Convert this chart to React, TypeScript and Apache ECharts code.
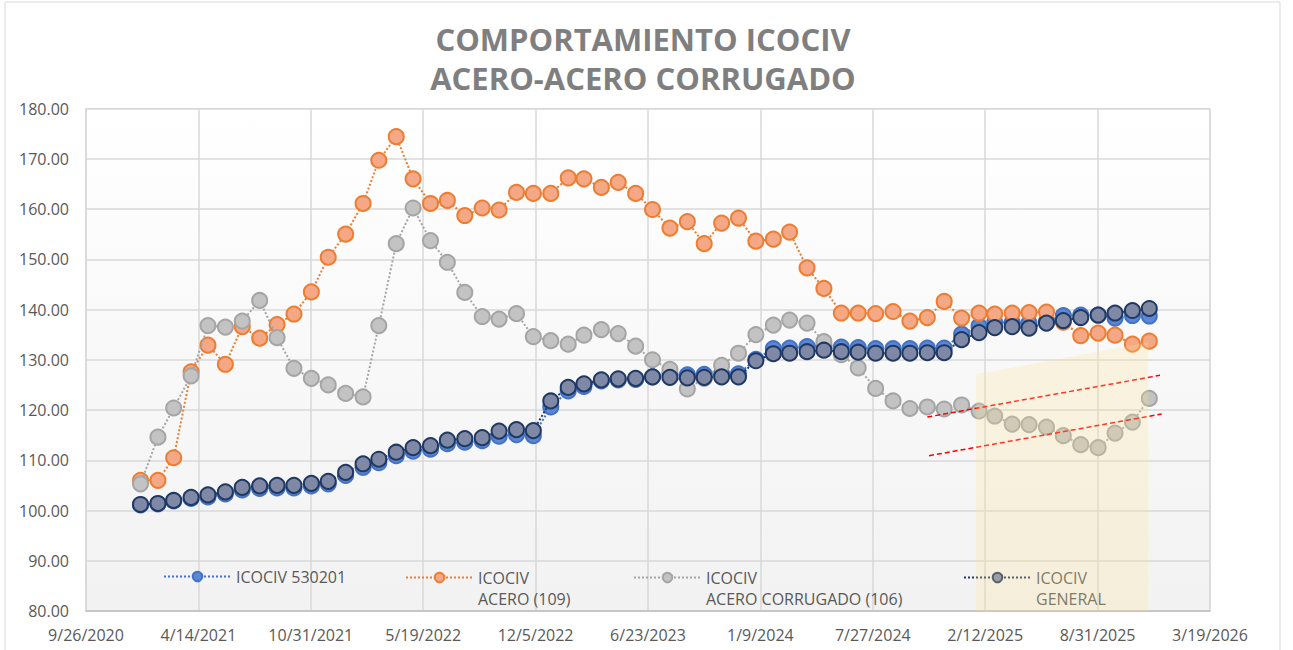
import React, { useEffect, useRef } from "react";
import * as echarts from "echarts";

const months = [
  "2021-01-01","2021-02-01","2021-03-01","2021-04-01","2021-05-01","2021-06-01",
  "2021-07-01","2021-08-01","2021-09-01","2021-10-01","2021-11-01","2021-12-01",
  "2022-01-01","2022-02-01","2022-03-01","2022-04-01","2022-05-01","2022-06-01",
  "2022-07-01","2022-08-01","2022-09-01","2022-10-01","2022-11-01","2022-12-01",
  "2023-01-01","2023-02-01","2023-03-01","2023-04-01","2023-05-01","2023-06-01",
  "2023-07-01","2023-08-01","2023-09-01","2023-10-01","2023-11-01","2023-12-01",
  "2024-01-01","2024-02-01","2024-03-01","2024-04-01","2024-05-01","2024-06-01",
  "2024-07-01","2024-08-01","2024-09-01","2024-10-01","2024-11-01","2024-12-01",
  "2025-01-01","2025-02-01","2025-03-01","2025-04-01","2025-05-01","2025-06-01",
  "2025-07-01","2025-08-01","2025-09-01","2025-10-01","2025-11-01","2025-12-01",
];

const icociv530201 = [
  101.1, 101.3, 101.9, 102.4, 102.7, 103.3, 104.1, 104.4, 104.5, 104.5, 104.9, 105.3,
  107.0, 108.6, 109.5, 110.9, 111.8, 112.2, 113.3, 113.6, 113.9, 114.8, 115.1, 114.9,
  120.6, 123.8, 124.7, 125.8, 126.0, 126.1, 126.6, 127.1, 127.0, 127.1, 127.2, 127.2,
  130.1, 132.2, 132.3, 132.6, 132.8, 132.5, 132.4, 132.2, 132.2, 132.2, 132.3, 132.3,
  135.1, 136.7, 137.4, 137.4, 137.3, 137.6, 138.8, 138.9, 138.9, 138.3, 138.8, 138.7,
];

const icocivAcero = [
  106.0, 106.0, 110.5, 127.6, 132.9, 129.1, 136.6, 134.3, 137.0, 139.1, 143.5, 150.4,
  155.0, 161.1, 169.7, 174.4, 166.0, 161.1, 161.7, 158.7, 160.2, 159.8, 163.3, 163.1,
  163.1, 166.2, 166.0, 164.3, 165.3, 163.1, 159.9, 156.2, 157.5, 153.1, 157.2, 158.2,
  153.6, 154.0, 155.4, 148.3, 144.2, 139.3, 139.3, 139.2, 139.6, 137.7, 138.4, 141.6,
  138.3, 139.3, 139.1, 139.3, 139.4, 139.5, 137.5, 134.8, 135.3, 134.9, 133.1, 133.7,
];

const icocivCorrugado = [
  105.3, 114.6, 120.4, 126.8, 136.8, 136.5, 137.7, 141.8, 134.4, 128.3, 126.3, 125.0,
  123.3, 122.6, 136.8, 153.1, 160.2, 153.7, 149.4, 143.4, 138.6, 138.1, 139.2, 134.6,
  133.8, 133.1, 134.9, 136.0, 135.2, 132.7, 130.0, 128.1, 124.2, 126.3, 128.9, 131.3,
  135.0, 136.9, 137.9, 137.3, 133.6, 131.0, 128.4, 124.3, 121.8, 120.3, 120.6, 120.2,
  121.0, 119.8, 118.8, 117.2, 117.1, 116.6, 114.9, 113.1, 112.5, 115.4, 117.6, 122.3,
];

const icocivGeneral = [
  101.2, 101.4, 102.0, 102.6, 103.1, 103.7, 104.6, 104.9, 105.0, 105.0, 105.4, 105.8,
  107.6, 109.3, 110.2, 111.6, 112.5, 112.9, 114.0, 114.3, 114.5, 115.8, 116.1, 115.9,
  121.8, 124.5, 125.2, 126.0, 126.2, 126.3, 126.6, 126.5, 126.4, 126.5, 126.6, 126.6,
  129.8, 131.2, 131.3, 131.6, 131.9, 131.6, 131.5, 131.3, 131.3, 131.3, 131.4, 131.4,
  134.0, 135.4, 136.4, 136.6, 136.3, 137.3, 137.8, 138.4, 138.9, 139.3, 139.8, 140.2,
];

const xTickLabels = [
  "9/26/2020", "4/14/2021", "10/31/2021", "5/19/2022", "12/5/2022", "6/23/2023",
  "1/9/2024", "7/27/2024", "2/12/2025", "8/31/2025", "3/19/2026",
];

// Trend lines (red dashed) and highlight band: [date, value]
const trendUpper: [string, number][] = [["2024-11-01", 118.6], ["2025-12-20", 126.9]];
const trendLower: [string, number][] = [["2024-11-04", 110.9], ["2025-12-23", 119.2]];
const highlightBand: [string, number][] = [["2025-01-27", 127.1], ["2025-11-29", 133.5]];

const BASE = Date.UTC(2020, 8, 26);
const dayOffset = (s: string) => {
  const [y, m, d] = s.split("-").map(Number);
  return Math.round((Date.UTC(y, m - 1, d) - BASE) / 86400000);
};

const FONT = "'Open Sans', 'Noto Sans', sans-serif";

export default function App() {
  const ref = useRef<HTMLDivElement>(null);

  useEffect(() => {
    if (!ref.current) return;
    const chart = echarts.init(ref.current, null, { renderer: "svg" });
    const xs = months.map(dayOffset);
    const pair = (vals: number[]) => vals.map((v, i) => [xs[i], v]);

    const mkSeries = (name: string, vals: number[], line: string, fill: string, z: number) => ({
      name,
      type: "line",
      data: pair(vals),
      symbol: "circle",
      symbolSize: 15,
      z,
      lineStyle: { color: line, width: 2, type: "dotted" },
      itemStyle: { color: fill, borderColor: line, borderWidth: 2 },
      emphasis: { disabled: true },
    });

    const legendCommon = {
      itemWidth: 67,
      itemHeight: 12,
      z: 1,
      textStyle: { color: "#595959", fontSize: 16, fontFamily: FONT, lineHeight: 21 },
      selectedMode: false,
    };

    const option = {
      animation: false,
      backgroundColor: "#ffffff",
      title: {
        text: "COMPORTAMIENTO ICOCIV\nACERO-ACERO CORRUGADO",
        left: 638,
        textAlign: "center",
        top: 14,
        textStyle: {
          color: "#7f7f7f",
          fontSize: 31,
          fontWeight: "bold",
          fontFamily: FONT,
          lineHeight: 39,
        },
      },
      graphic: [
        {
          type: "rect",
          shape: { x: 5, y: 2, width: 1275, height: 660 },
          style: { fill: "none", stroke: "#d9d9d9", lineWidth: 1 },
          silent: true,
        },
      ],
      grid: {
        left: 86,
        right: 83,
        top: 108.5,
        bottom: 39,
        show: true,
        borderColor: "#d9d9d9",
        borderWidth: 1,
        backgroundColor: new echarts.graphic.LinearGradient(0, 0, 0, 1, [
          { offset: 0, color: "#ffffff" },
          { offset: 1, color: "#f2f2f2" },
        ]),
      },
      legend: [
        { ...legendCommon, data: ["ICOCIV 530201"], left: 158, top: 561 },
        { ...legendCommon, data: ["ICOCIV\nACERO (109)"], left: 400, top: 541, formatter: (n: string) => " \n" + n },
        { ...legendCommon, data: ["ICOCIV\nACERO CORRUGADO (106)"], left: 628, top: 541, formatter: (n: string) => " \n" + n },
        { ...legendCommon, data: ["ICOCIV\nGENERAL"], left: 958, top: 541, formatter: (n: string) => " \n" + n },
      ],
      xAxis: {
        type: "value",
        min: 0,
        max: 2000,
        interval: 200,
        axisLine: { show: true, lineStyle: { color: "#bfbfbf", width: 1.5 } },
        axisTick: { show: false },
        splitLine: { show: true, lineStyle: { color: "#d9d9d9", width: 1.5 } },
        axisLabel: {
          color: "#595959",
          fontSize: 16,
          fontFamily: FONT,
          margin: 16,
          formatter: (v: number) => xTickLabels[Math.round(v / 200)] ?? "",
        },
      },
      yAxis: {
        type: "value",
        min: 80,
        max: 180,
        interval: 10,
        axisLine: { show: true, lineStyle: { color: "#d9d9d9", width: 1.5 } },
        axisTick: { show: false },
        splitLine: { show: true, lineStyle: { color: "#d9d9d9", width: 1.5 } },
        axisLabel: {
          color: "#595959",
          fontSize: 16,
          fontFamily: FONT,
          margin: 17,
          formatter: (v: number) => v.toFixed(2),
        },
      },
      series: [
        mkSeries("ICOCIV 530201", icociv530201, "#4472C4", "#5b87d4", 2),
        mkSeries("ICOCIV\nACERO (109)", icocivAcero, "#ED7D31", "#f4a886", 3),
        mkSeries("ICOCIV\nACERO CORRUGADO (106)", icocivCorrugado, "#A5A5A5", "#c3c3c3", 4),
        mkSeries("ICOCIV\nGENERAL", icocivGeneral, "#203864", "#7f89a6", 5),
        {
          type: "line",
          name: "trendUpper",
          data: trendUpper.map(([d, v]) => [dayOffset(d), v]),
          symbol: "none",
          z: 6,
          lineStyle: { color: "#ff0000", width: 1.5, type: [5, 3] },
          emphasis: { disabled: true },
        },
        {
          type: "line",
          name: "trendLower",
          data: trendLower.map(([d, v]) => [dayOffset(d), v]),
          symbol: "none",
          z: 6,
          lineStyle: { color: "#ff0000", width: 1.5, type: [5, 3] },
          emphasis: { disabled: true },
        },
        {
          type: "line",
          name: "band",
          data: highlightBand.map(([d, v]) => [dayOffset(d), v]),
          symbol: "none",
          z: 10,
          lineStyle: { width: 0, opacity: 0 },
          areaStyle: { color: "rgba(255, 228, 150, 0.35)", origin: "start" },
          emphasis: { disabled: true },
        },
      ],
    };

    chart.setOption(option as any);
    return () => chart.dispose();
  }, []);

  return (
    <div
      ref={ref}
      style={{ position: "fixed", left: 0, top: 0, width: 1293, height: 650 }}
    />
  );
}
